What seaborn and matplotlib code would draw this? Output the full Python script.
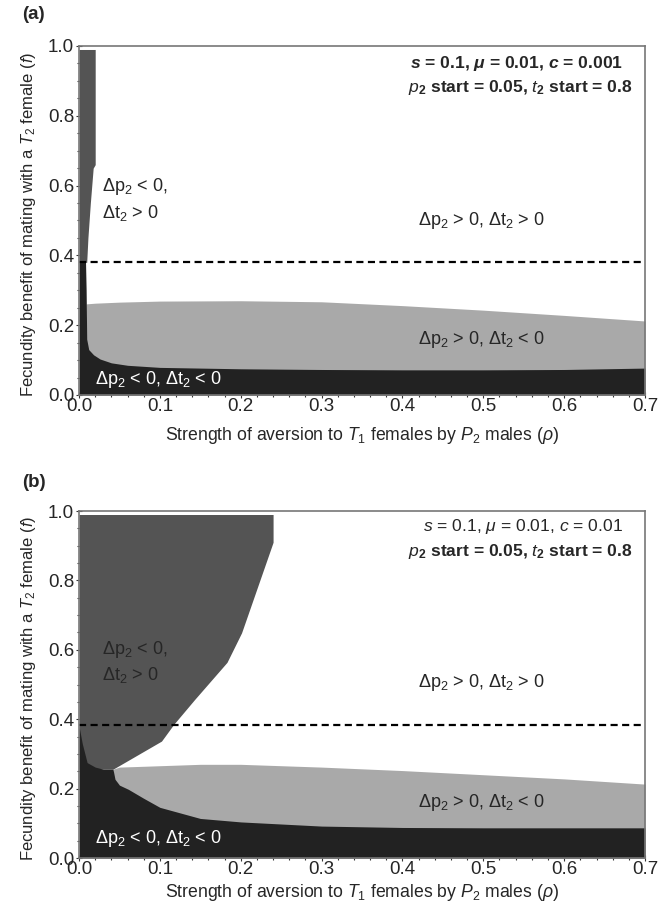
import numpy as np
import pandas as pd
import seaborn as sns
import matplotlib
matplotlib.use("Agg")
import matplotlib.pyplot as plt
from matplotlib.ticker import MultipleLocator

# threshold line (f) shown dashed in both panels
f_threshold = 0.382

# ---- panel (a): c = 0.001 ----
a_dgray_f = [0.38, 0.45, 0.55, 0.65, 0.66, 0.99]
a_dgray_x = [0.0095, 0.011, 0.014, 0.0175, 0.020, 0.020]

a_lgray_x = [0.0087, 0.02, 0.05, 0.1, 0.2, 0.3, 0.4, 0.5, 0.6, 0.7]
a_lgray_top = [0.261, 0.263, 0.266, 0.269, 0.270, 0.267, 0.256, 0.243, 0.228, 0.212]

a_black_x = [0.0, 0.008, 0.0088, 0.0095, 0.012, 0.018, 0.026, 0.04, 0.06,
             0.1, 0.2, 0.3, 0.4, 0.5, 0.6, 0.7]
a_black_top = [0.385, 0.385, 0.30, 0.16, 0.13, 0.115, 0.103, 0.092, 0.085,
               0.079, 0.075, 0.073, 0.072, 0.072, 0.073, 0.077]

# ---- panel (b): c = 0.01 ----
b_dgray_f = [0.256, 0.337, 0.385, 0.457, 0.564, 0.649, 0.91, 0.99]
b_dgray_x = [0.042, 0.102, 0.117, 0.143, 0.183, 0.201, 0.240, 0.240]

b_lgray_x = [0.042, 0.05, 0.088, 0.15, 0.2, 0.3, 0.4, 0.5, 0.6, 0.7]
b_lgray_top = [0.256, 0.262, 0.265, 0.270, 0.270, 0.262, 0.252, 0.240, 0.228, 0.213]

b_black_x = [0.0, 0.004, 0.01, 0.02, 0.03, 0.042, 0.0445, 0.05, 0.061, 0.08,
             0.1, 0.15, 0.2, 0.3, 0.4, 0.5, 0.6, 0.7]
b_black_top = [0.38, 0.33, 0.275, 0.262, 0.256, 0.256, 0.227, 0.21, 0.198, 0.172,
               0.146, 0.114, 0.104, 0.092, 0.088, 0.087, 0.087, 0.087]

params_a = [r"$\mathbfit{s}$ = 0.1, $\mathbfit{\mu}$ = 0.01, $\mathbfit{c}$ = 0.001",
            r"$\mathit{p}_\mathregular{2}$ start = 0.05, $\mathit{t}_\mathregular{2}$ start = 0.8"]
params_b = [r"$\mathit{s}$ = 0.1, $\mathit{\mu}$ = 0.01, $\mathit{c}$ = 0.01",
            r"$\mathit{p}_\mathregular{2}$ start = 0.05, $\mathit{t}_\mathregular{2}$ start = 0.8"]

sns.set_theme(style="ticks")
plt.rcParams["font.family"] = ["Liberation Sans", "DejaVu Sans"]
plt.rcParams["mathtext.fontset"] = "custom"
plt.rcParams["mathtext.rm"] = "Liberation Sans"
plt.rcParams["mathtext.it"] = "Liberation Sans:italic"
plt.rcParams["mathtext.bf"] = "Liberation Sans:bold"
plt.rcParams["mathtext.bfit"] = "Liberation Sans:bold:italic"

black, dgray, lgray = sns.color_palette(["#222222", "#545454", "#a9a9a9"])

fig = plt.figure(figsize=(6.68, 9.09), dpi=100)
ax_a = fig.add_axes([0.1183, 0.5655, 0.8473, 0.3839])
ax_b = fig.add_axes([0.1183, 0.0561, 0.8473, 0.3817])


def draw_panel(ax, dg_f, dg_x, lg_x, lg_top, bk_x, bk_top, params, bold, lab_y, xlab_y):
    ax.fill_betweenx(dg_f, 0, dg_x, color=dgray, lw=0)
    ax.fill_between(lg_x, 0, lg_top, color=lgray, lw=0)
    ax.fill_between(bk_x, 0, bk_top, color=black, lw=0)
    ax.axhline(f_threshold, color="black", lw=1.6, ls=(0, (3.2, 2.0)))

    ax.set_xlim(0, 0.7)
    ax.set_ylim(0, 1.0)
    ax.xaxis.set_major_locator(MultipleLocator(0.1))
    ax.xaxis.set_minor_locator(MultipleLocator(0.02))
    ax.yaxis.set_major_locator(MultipleLocator(0.2))
    ax.yaxis.set_minor_locator(MultipleLocator(0.05))
    ax.tick_params(which="both", direction="inout", color="#333333", width=0.8,
                   labelsize=13.5)
    ax.tick_params(axis="x", pad=0)
    ax.tick_params(axis="y", pad=1)
    ax.tick_params(which="major", length=5)
    ax.tick_params(which="minor", length=3.5)
    ax.set_xticklabels([f"{v:.1f}" for v in ax.get_xticks()])
    ax.set_yticklabels([f"{v:.1f}" for v in ax.get_yticks()])
    for sp in ax.spines.values():
        sp.set_color("#777777")
        sp.set_linewidth(1.2)
        sp.set_zorder(5)

    ax.set_xlabel(r"Strength of aversion to $\mathit{T}_\mathregular{1}$ females by "
                  r"$\mathit{P}_\mathregular{2}$ males ($\mathit{\rho}$)",
                  fontsize=12.7, va="center")
    ax.xaxis.set_label_coords(0.5, xlab_y)
    ax.set_ylabel(r"Fecundity benefit of mating with a $\mathit{T}_\mathregular{2}$ "
                  r"female ($\mathit{f}$)", fontsize=12, va="center")
    ax.yaxis.set_label_coords(-0.090, 0.49)

    ax.text(0.028, lab_y[0], r"$\mathregular{\Delta p_2}$ < 0," + "\n"
            + r"$\mathregular{\Delta t_2}$ > 0", fontsize=13, va="center",
            ha="left", linespacing=1.35)
    ax.text(0.498, lab_y[1], r"$\mathregular{\Delta p_2}$ > 0, $\mathregular{\Delta t_2}$ > 0",
            fontsize=13, ha="center", va="center")
    ax.text(0.498, lab_y[2], r"$\mathregular{\Delta p_2}$ > 0, $\mathregular{\Delta t_2}$ < 0",
            fontsize=13, ha="center", va="center")
    ax.text(0.098, lab_y[3], r"$\mathregular{\Delta p_2}$ < 0, $\mathregular{\Delta t_2}$ < 0",
            fontsize=13, ha="center", va="center", color="white")
    wt = "bold" if bold else "normal"
    ax.text(0.673, lab_y[4], params[0], fontsize=12.6, ha="right", va="center",
            fontweight=wt)
    ax.text(0.685, lab_y[5], params[1], fontsize=12.6, ha="right", va="center",
            fontweight="bold")


draw_panel(ax_a, a_dgray_f, a_dgray_x, a_lgray_x, a_lgray_top,
           a_black_x, a_black_top, params_a, True,
           [0.56, 0.50, 0.158, 0.043, 0.951, 0.88], -0.115)
draw_panel(ax_b, b_dgray_f, b_dgray_x, b_lgray_x, b_lgray_top,
           b_black_x, b_black_top, params_b, False,
           [0.565, 0.505, 0.16, 0.055, 0.955, 0.883], -0.10)

fig.text(0.033, 0.9835, "(a)", fontsize=13.5, fontweight="bold", va="center")
fig.text(0.033, 0.4697, "(b)", fontsize=13.5, fontweight="bold", va="center")

fig.savefig("out.png", dpi=100)
